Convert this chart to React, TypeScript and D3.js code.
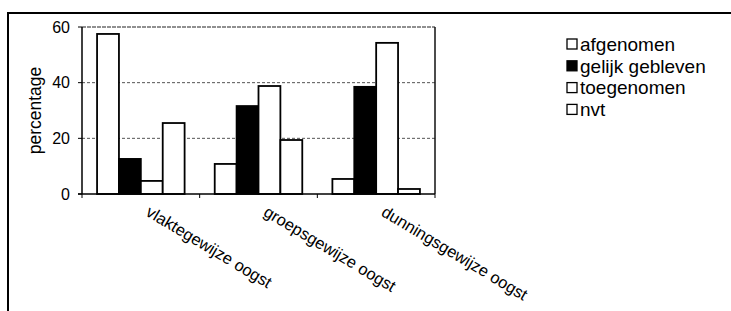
import * as d3 from "d3";

// categories and series
const categories = ["vlaktegewijze oogst", "groepsgewijze oogst", "dunningsgewijze oogst"];
const series = ["afgenomen", "gelijk gebleven", "toegenomen", "nvt"];
const fills = ["#fff", "#000", "#fff", "#fff"];

const afgenomen = [57.5, 10.8, 5.4];
const gelijkGebleven = [12.6, 31.6, 38.5];
const toegenomen = [4.7, 38.8, 54.3];
const nvt = [25.5, 19.4, 1.8];

const yTicks = [0, 20, 40, 60];

const values = [afgenomen, gelijkGebleven, toegenomen, nvt];

const font = "'Liberation Sans', Arial, sans-serif";

const App = () => {
    const left = 82, right = 435, top = 27, bottom = 194;

    const x0 = d3.scaleBand().domain(categories).range([left, right]);
    const bw = x0.bandwidth();
    const x1 = d3.scaleBand().domain(series).range([bw * 0.128, bw * 0.872]);
    const y = d3.scaleLinear().domain([0, 60]).range([bottom, top]);

    const boundaries = [left, ...categories.map((c) => x0(c)! + bw)];

    return (
        <svg width={731} height={311} style={{ position: "absolute", left: 0, top: 0, background: "#fff" }}
             fontFamily={font}>
            {/* outer frame */}
            <path d="M8,311 V13 H731" fill="none" stroke="#000" strokeWidth={2} />

            {/* gridlines */}
            {yTicks.filter((t) => t > 0 && t < 60).map((t) => (
                <line key={t} x1={left} x2={right} y1={y(t)} y2={y(t)}
                      stroke="#555" strokeWidth={1} strokeDasharray="3,2" />
            ))}
            <line x1={left} x2={right} y1={y(60)} y2={y(60)} stroke="#222" strokeWidth={1.2} strokeDasharray="4,1" />
            <line x1={right} x2={right} y1={top} y2={bottom} stroke="#111" strokeWidth={1.5} />

            {/* bars */}
            {categories.map((c, ci) => (
                <g key={c}>
                    {series.map((s, si) => (
                        <rect key={s}
                              x={x0(c)! + x1(s)!}
                              y={y(values[si][ci])}
                              width={x1.bandwidth()}
                              height={bottom - y(values[si][ci])}
                              fill={fills[si]}
                              stroke="#000"
                              strokeWidth={1.8} />
                    ))}
                </g>
            ))}

            {/* axes */}
            <line x1={left} x2={left} y1={top} y2={bottom} stroke="#000" strokeWidth={1.5} />
            <line x1={left - 4} x2={right} y1={bottom} y2={bottom} stroke="#000" strokeWidth={1.5} />
            {yTicks.map((t) => (
                <g key={t}>
                    <line x1={left - 4} x2={left} y1={y(t)} y2={y(t)} stroke="#000" />
                    <text x={70} y={y(t)} dy="0.36em" textAnchor="end" fontSize={16}>{t}</text>
                </g>
            ))}
            {boundaries.map((b, i) => (
                <line key={i} x1={b} x2={b} y1={bottom} y2={bottom + 4} stroke="#000" />
            ))}

            <text transform={`translate(41,${(top + bottom) / 2}) rotate(-90)`} textAnchor="middle" fontSize={17.5}>
                percentage
            </text>

            {/* category labels */}
            {categories.map((c) => (
                <text key={c} transform={`translate(${x0(c)! + bw / 2 + 4},${bottom + 21}) rotate(31)`}
                      fontSize={16.5}>
                    {c}
                </text>
            ))}

            {/* legend */}
            {series.map((s, i) => (
                <g key={s} transform={`translate(567,${44 + i * 21.8})`}>
                    <rect x={0} y={-5} width={10} height={10} fill={fills[i]} stroke="#000" strokeWidth={1.3} />
                    <text x={13} y={0} dy="0.36em" fontSize={19}>{s}</text>
                </g>
            ))}
        </svg>
    );
};

export default App;
